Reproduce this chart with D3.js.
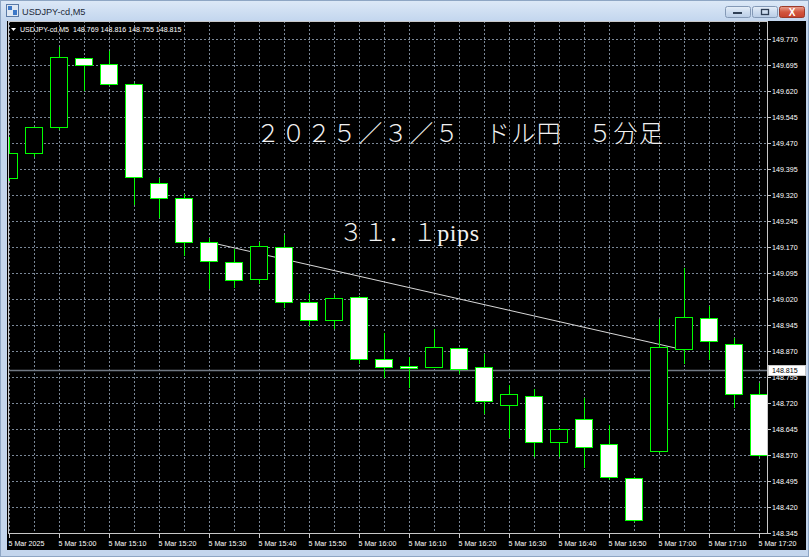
<!DOCTYPE html>
<html><head><meta charset="utf-8">
<script src="https://cdn.jsdelivr.net/npm/d3@7"></script>
<style>html,body{margin:0;padding:0;background:#c8d9ee;overflow:hidden}svg{display:block}</style>
</head><body>
<svg id="c" width="809" height="557"></svg>
<script>
// ---- data ----
const times = ["14:50","14:55","15:00","15:05","15:10","15:15","15:20","15:25","15:30","15:35","15:40","15:45","15:50","15:55","16:00","16:05","16:10","16:15","16:20","16:25","16:30","16:35","16:40","16:45","16:50","16:55","17:00","17:05","17:10","17:15","17:20"];
const opens  = [149.369,149.442,149.515,149.714,149.697,149.639,149.354,149.312,149.184,149.126,149.079,149.171,149.012,148.959,149.027,148.846,148.827,148.825,148.879,148.823,148.713,148.740,148.608,148.673,148.601,148.503,148.582,148.875,148.966,148.889,148.745];
const highs  = [149.487,149.516,149.746,149.716,149.735,149.642,149.368,149.323,149.195,149.164,149.185,149.205,149.034,149.031,149.029,148.921,148.854,148.933,148.880,148.861,148.772,148.760,148.647,148.734,148.657,148.507,148.962,149.109,149.001,148.907,148.777];
const lows   = [149.363,149.432,149.510,149.623,149.638,149.293,149.257,149.147,149.051,149.055,149.067,148.996,148.945,148.935,148.836,148.796,148.767,148.823,148.807,148.690,148.622,148.568,148.568,148.536,148.502,148.380,148.580,148.836,148.846,148.709,148.568];
const closes = [149.441,149.515,149.717,149.695,149.639,149.373,149.312,149.185,149.130,149.075,149.173,149.012,148.959,149.022,148.846,148.825,148.820,148.882,148.817,148.726,148.746,148.607,148.645,148.594,148.507,148.382,148.881,148.967,148.899,148.746,148.570];
const priceTicks = [149.770,149.695,149.620,149.545,149.470,149.395,149.320,149.245,149.170,149.095,149.020,148.945,148.870,148.795,148.720,148.645,148.570,148.495,148.420,148.345];
const timeLabelIdx = [0,2,4,6,8,10,12,14,16,18,20,22,24,26,28,30];
const timeLabels = ["5 Mar 2025","5 Mar 15:00","5 Mar 15:10","5 Mar 15:20","5 Mar 15:30","5 Mar 15:40","5 Mar 15:50","5 Mar 16:00","5 Mar 16:10","5 Mar 16:20","5 Mar 16:30","5 Mar 16:40","5 Mar 16:50","5 Mar 17:00","5 Mar 17:10","5 Mar 17:20"];
const currentPrice = 148.815;
const infoValues = [148.769,148.816,148.755,148.815];
const trend = {i0: 8, p0: 149.184, i1: 27, p1: 148.873};
const titleText = "２０２５／３／５　ドル円　５分足";
const pipsText = "３１．１pips";

// ---- layout ----
const W = 809, H = 557;
const plotL = 8, plotR = 767, plotT = 21, plotB = 533;
const svg = d3.select("#c");
const x = d3.scaleLinear().domain([0, times.length - 1]).range([9, 759]);
const y = d3.scaleLinear().domain([148.345, 149.770]).range([533, 39]);
const px = v => Math.round(v) + 0.5;
const LIME = "#00ff00";
const font = "'Liberation Sans', Arial, sans-serif";

// window chrome
const defs = svg.append("defs");
const tg = defs.append("linearGradient").attr("id","tg").attr("x1",0).attr("y1",0).attr("x2",0).attr("y2",1);
tg.append("stop").attr("offset","0%").attr("stop-color","#dde9f7");
tg.append("stop").attr("offset","100%").attr("stop-color","#c3d6ee");
const rg = defs.append("linearGradient").attr("id","rg").attr("x1",0).attr("y1",0).attr("x2",0).attr("y2",1);
rg.append("stop").attr("offset","0%").attr("stop-color","#e8a392");
rg.append("stop").attr("offset","50%").attr("stop-color","#d3563f");
rg.append("stop").attr("offset","100%").attr("stop-color","#c5412c");
const bg = defs.append("linearGradient").attr("id","bg").attr("x1",0).attr("y1",0).attr("x2",0).attr("y2",1);
bg.append("stop").attr("offset","0%").attr("stop-color","#e6eef8");
bg.append("stop").attr("offset","50%").attr("stop-color","#cddcef");
bg.append("stop").attr("offset","100%").attr("stop-color","#b9cce5");
defs.append("clipPath").attr("id","plotclip").append("rect")
  .attr("x", plotL).attr("y", plotT).attr("width", plotR - plotL).attr("height", plotB - plotT);

svg.append("rect").attr("x",0).attr("y",0).attr("width",W).attr("height",H).attr("fill","#c4d6ed");
svg.append("rect").attr("x",0).attr("y",0).attr("width",W).attr("height",21).attr("fill","url(#tg)");
svg.append("rect").attr("x",0.5).attr("y",0.5).attr("width",W-1).attr("height",H-1).attr("fill","none").attr("stroke","#8ea6c4");
// icon
const ic = svg.append("g").attr("transform","translate(6,4)");
ic.append("rect").attr("x",0.5).attr("y",0.5).attr("width",12).attr("height",12).attr("fill","#dfe8f3").attr("stroke","#5a7aa6");
ic.append("rect").attr("x",2).attr("y",2).attr("width",4).attr("height",4).attr("fill","#3d78c8");
ic.append("rect").attr("x",7).attr("y",6).attr("width",4).attr("height",5).attr("fill","#3d78c8");
svg.append("text").attr("x",22).attr("y",15).attr("font-family",font).attr("font-size",9.2)
  .attr("fill","#1e2a3a").text("USDJPY-cd,M5");
// buttons
[[725,"min"],[752,"max"]].forEach(([bx,k])=>{
  svg.append("rect").attr("x",bx+0.5).attr("y",6.5).attr("width",25).attr("height",11).attr("rx",2)
    .attr("fill","url(#bg)").attr("stroke","#8499b6");
  if(k==="min") svg.append("rect").attr("x",bx+8).attr("y",12).attr("width",9).attr("height",2).attr("fill","#2f3f55");
  else svg.append("rect").attr("x",bx+9.5).attr("y",9.5).attr("width",7).attr("height",5).attr("fill","none").attr("stroke","#2f3f55").attr("stroke-width",1.3);
});
svg.append("rect").attr("x",779.5).attr("y",6.5).attr("width",25).attr("height",11).attr("rx",2)
  .attr("fill","url(#rg)").attr("stroke","#9b3a2a");
svg.append("text").attr("x",792).attr("y",15.5).attr("text-anchor","middle").attr("font-family",font)
  .attr("font-weight","bold").attr("font-size",10).attr("fill","#ffffff").text("X");

// chart black area
svg.append("rect").attr("x",7).attr("y",21).attr("width",799).attr("height",529).attr("fill","#000");

// grid
const grid = svg.append("g").attr("clip-path","url(#plotclip)")
  .attr("stroke","#7a8797").attr("stroke-width",1).attr("stroke-dasharray","2,2");
grid.selectAll("line.h").data(priceTicks).join("line").attr("class","h")
  .attr("x1",plotL).attr("x2",plotR).attr("y1",d=>px(y(d))).attr("y2",d=>px(y(d)));
grid.selectAll("line.v").data(times).join("line").attr("class","v")
  .attr("x1",(d,i)=>px(x(i))).attr("x2",(d,i)=>px(x(i))).attr("y1",plotT).attr("y2",plotB);

// current price line
svg.append("line").attr("x1",plotL).attr("x2",plotR).attr("y1",px(y(currentPrice))).attr("y2",px(y(currentPrice)))
  .attr("stroke","#6f7782").attr("stroke-width",1.6);

// trend line
svg.append("line").attr("x1",x(trend.i0)).attr("y1",y(trend.p0)).attr("x2",x(trend.i1)).attr("y2",y(trend.p1))
  .attr("stroke","#d8d8d8").attr("stroke-width",1);

// candles
const candles = svg.append("g").attr("clip-path","url(#plotclip)");
const data = times.map((t,i)=>({t,i,o:opens[i],h:highs[i],l:lows[i],c:closes[i]}));
candles.selectAll("line.w").data(data).join("line").attr("class","w")
  .attr("x1",d=>px(x(d.i))).attr("x2",d=>px(x(d.i)))
  .attr("y1",d=>Math.round(y(d.h))).attr("y2",d=>Math.round(y(d.l))+1)
  .attr("stroke",LIME).attr("stroke-width",1);
candles.selectAll("rect.b").data(data).join("rect").attr("class","b")
  .attr("x",d=>Math.round(x(d.i))-8.5)
  .attr("width",17)
  .attr("y",d=>px(y(Math.max(d.o,d.c))))
  .attr("height",d=>Math.max(1, Math.round(y(Math.min(d.o,d.c))) - Math.round(y(Math.max(d.o,d.c)))))
  .attr("fill",d=>d.c>=d.o ? "#000" : "#fff")
  .attr("stroke",LIME).attr("stroke-width",1);

// plot frame
svg.append("rect").attr("x",plotL+0.5).attr("y",plotT+0.5).attr("width",plotR-plotL).attr("height",plotB-plotT)
  .attr("fill","none").attr("stroke","#c8c8c8").attr("stroke-width",1);

// right price axis
const ra = svg.append("g").attr("font-family",font).attr("font-size",7.1).attr("fill","#fff");
ra.selectAll("line").data(priceTicks).join("line")
  .attr("x1",plotR+1).attr("x2",plotR+4).attr("y1",d=>px(y(d))).attr("y2",d=>px(y(d)))
  .attr("stroke","#c8c8c8");
ra.selectAll("text").data(priceTicks).join("text")
  .attr("x",772).attr("y",d=>y(d)+2.6).text(d=>d.toFixed(3));
// current price box
svg.append("rect").attr("x",plotR+1.5).attr("y",Math.round(y(currentPrice))-4.5).attr("width",37).attr("height",10)
  .attr("fill","#fff").attr("stroke","#c8c8c8");
svg.append("text").attr("x",772).attr("y",y(currentPrice)+3).attr("font-family",font).attr("font-size",7.1)
  .attr("fill","#000").text(currentPrice.toFixed(3));

// bottom time axis
const ba = svg.append("g").attr("font-family",font).attr("font-size",7.1).attr("fill","#fff");
ba.selectAll("line").data(timeLabelIdx).join("line")
  .attr("x1",d=>px(x(d))).attr("x2",d=>px(x(d))).attr("y1",plotB+1).attr("y2",plotB+5).attr("stroke","#c8c8c8");
ba.selectAll("text").data(timeLabelIdx).join("text")
  .attr("x",d=>Math.round(x(d))-0.5).attr("y",546).text((d,k)=>timeLabels[k]);

// info line
svg.append("path").attr("d","M11,28 L16,28 L13.5,31 Z").attr("fill","#fff");
svg.append("text").attr("x",20).attr("y",31.5).attr("font-family",font).attr("font-size",7.1).attr("fill","#fff")
  .attr("xml:space","preserve")
  .text("USDJPY-cd,M5  " + infoValues.map(v=>v.toFixed(3)).join(" "));

// text objects
const jfont = "'Liberation Serif','Noto Sans CJK JP',serif";
svg.append("text").attr("x",256).attr("y",142).attr("font-family",jfont).attr("font-weight",300)
  .attr("font-size",24).attr("fill","#f2f2f2").attr("textLength",407).attr("lengthAdjust","spacing")
  .text(titleText);
svg.append("text").attr("x",339).attr("y",241).attr("font-family",jfont).attr("font-weight",300)
  .attr("font-size",24).attr("fill","#f2f2f2").attr("textLength",140).attr("lengthAdjust","spacing")
  .text(pipsText);
</script>
</body></html>
